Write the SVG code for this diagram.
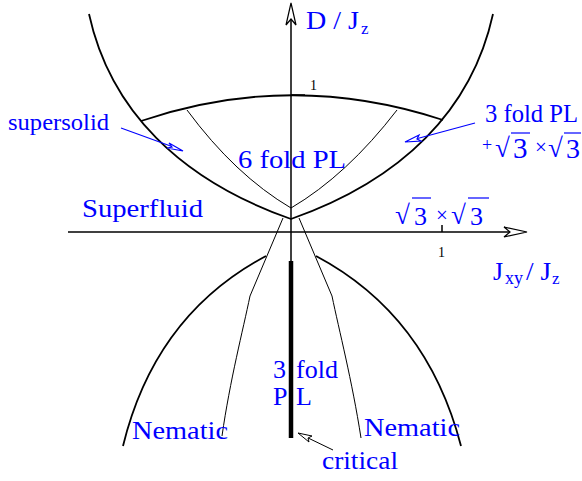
<svg xmlns="http://www.w3.org/2000/svg" width="582" height="481" viewBox="0 0 582 481">
<style>
text{font-family:"Liberation Serif","Times New Roman",serif;fill:#0000ff}
.lbl{font-size:26px}
.num{font-size:14px;fill:#000}
.thick{fill:none;stroke:#000;stroke-width:1.8}
.thin{fill:none;stroke:#000;stroke-width:1}
.ax{fill:none;stroke:#000;stroke-width:1.5}
.head{fill:#fff;stroke:#000;stroke-width:1.2;stroke-linejoin:miter}
.bl{stroke:#0000ff;fill:none;stroke-width:1.2}
.blhead{fill:#fff;stroke:#0000ff;stroke-width:1.2}
.rad{font-size:27px}
.times{font-size:21px}
</style>
<rect width="582" height="481" fill="#fff"/>
<g id="connectors">
  <path class="thick" d="M89,14 C110,110 180,180 291,219 C402,180 472,110 493,14"/>
  <path class="thick" d="M141,121 Q291,70 443,120"/>
  <path class="thin" d="M187,110 Q235,175 291,208 Q347,175 397,110"/>
  <path class="thick" d="M266,256 Q155,315 123,446"/>
  <path class="thick" d="M316,256 Q427,315 461,446"/>
  <path class="thin" d="M283,218 L250,296 C243,330 230,380 222,436"/>
  <path class="thin" d="M299,218 L332,296 C339,330 352,380 361,438"/>
  <line class="ax" x1="291" y1="437" x2="291" y2="19"/>
  <path class="head" d="M291,3 L296,25 L291,19 L286,25 Z"/>
  <line class="ax" x1="68" y1="232" x2="510" y2="232"/>
  <path class="head" d="M527,232 L504,237 L510,232 L504,227 Z"/>
  <line class="ax" x1="291" y1="95" x2="305" y2="95"/>
  <line class="ax" x1="442" y1="225" x2="442" y2="232"/>
  <line x1="291" y1="261" x2="291" y2="438" stroke="#000" stroke-width="4.5"/>
  <line class="bl" x1="121" y1="128" x2="176" y2="148"/>
  <path class="blhead" d="M183,151 L169,143 L172,147 L167,148 Z"/>
  <line class="bl" x1="475" y1="123" x2="412" y2="140"/>
  <path class="blhead" d="M405,142 L419,135 L417,139 L421,141 Z"/>
  <line class="thin" x1="333" y1="450" x2="304" y2="436"/>
  <path class="head" d="M298,433 L312,436 L308,438 L309,442 Z" style="stroke-width:1"/>
  <line class="bl" x1="412" y1="198" x2="431" y2="198"/>
  <line class="bl" x1="468" y1="198" x2="489" y2="198"/>
  <line class="bl" x1="511" y1="133" x2="530" y2="133"/>
  <line class="bl" x1="564" y1="133" x2="581" y2="133"/>
</g>
<g id="axis-labels">
  <text class="lbl" x="306" y="29" textLength="53" lengthAdjust="spacingAndGlyphs">D / J</text>
  <text x="361" y="34" style="font-size:17px">z</text>
  <text class="lbl" x="493" y="280">J</text>
  <text x="505" y="284" style="font-size:18px" textLength="18" lengthAdjust="spacingAndGlyphs">xy</text>
  <text class="lbl" x="526" y="280" textLength="25" lengthAdjust="spacingAndGlyphs">/ J</text>
  <text x="552" y="284" style="font-size:17px">z</text>
  <text class="num" x="310" y="90">1</text>
  <text class="num" x="438" y="257">1</text>
</g>
<g id="superfluid"><text class="lbl" x="82" y="217" textLength="121" lengthAdjust="spacingAndGlyphs">Superfluid</text></g>
<g id="supersolid"><text x="8" y="130" style="font-size:23px" textLength="101" lengthAdjust="spacingAndGlyphs">supersolid</text></g>
<g id="sixfold"><text class="lbl" x="238" y="168" textLength="108" lengthAdjust="spacingAndGlyphs">6 fold PL</text></g>
<g id="threefold-top">
  <text x="485" y="122" style="font-size:25px" textLength="93" lengthAdjust="spacingAndGlyphs">3 fold PL</text>
  <text x="482" y="151" style="font-size:18px">+</text>
  <text x="495" y="157" class="rad">√</text>
  <text x="513" y="158" style="font-size:29px">3</text>
  <text x="535" y="154" class="times">×</text>
  <text x="548" y="157" class="rad">√</text>
  <text x="566" y="158" style="font-size:28px">3</text>
</g>
<g id="root3">
  <text x="395" y="224" class="rad">√</text>
  <text x="414" y="225" class="lbl">3</text>
  <text x="436" y="222" class="times">×</text>
  <text x="451" y="224" class="rad">√</text>
  <text x="470" y="225" class="lbl">3</text>
</g>
<g id="threefold-bottom">
  <text class="lbl" x="273" y="378">3<tspan x="296">fold</tspan></text>
  <text class="lbl" x="273" y="405">P<tspan x="296">L</tspan></text>
</g>
<g id="nematic-left"><text class="lbl" x="132" y="439" textLength="96" lengthAdjust="spacingAndGlyphs">Nematic</text></g>
<g id="nematic-right"><text class="lbl" x="364" y="436" textLength="96" lengthAdjust="spacingAndGlyphs">Nematic</text></g>
<g id="critical"><text class="lbl" x="322" y="469" textLength="76" lengthAdjust="spacingAndGlyphs">critical</text></g>
</svg>
